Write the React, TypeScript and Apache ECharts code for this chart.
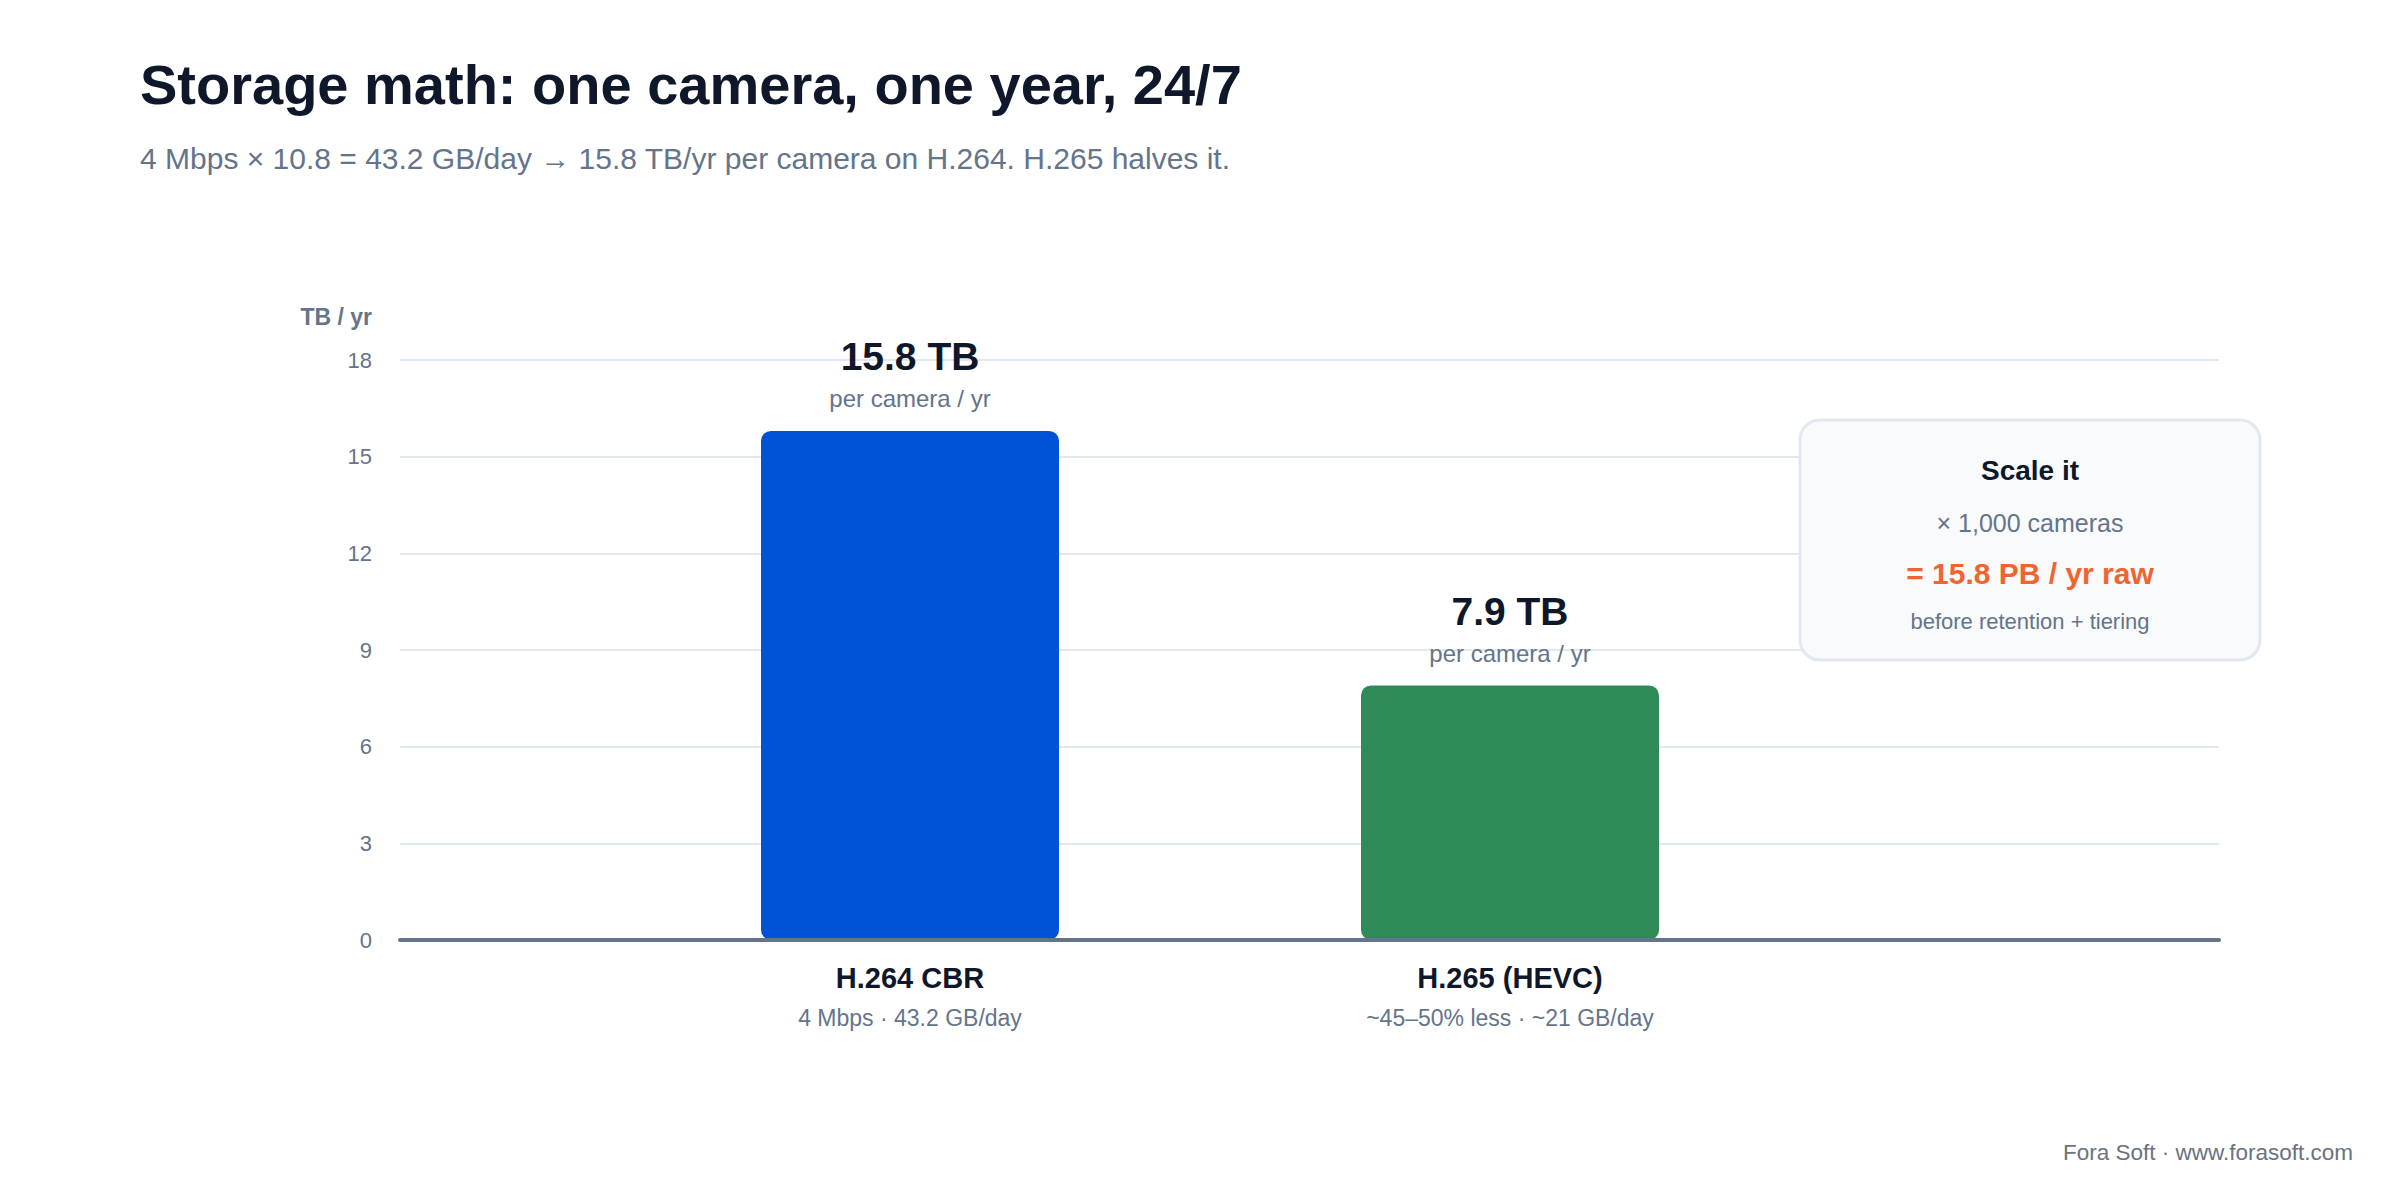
import React, { useEffect, useRef } from "react";
import * as echarts from "echarts";

const categories = ["H.264 CBR", "H.265 (HEVC)"];
const categoryNotes = ["4 Mbps · 43.2 GB/day", "~45–50% less · ~21 GB/day"];
const storageTB = [15.8, 7.9];
const barColors = ["#0052d6", "#2e8b57"];
const valueLabels = ["15.8 TB", "7.9 TB"];
const yTicks = { min: 0, max: 18, interval: 3 };

const FONT = "'Liberation Sans', Arial, Helvetica, sans-serif";
const DARK = "#0f172a";
const SLATE = "#64748b";

export default function App() {
  const ref = useRef<HTMLDivElement>(null);

  useEffect(() => {
    if (!ref.current) return;
    const chart = echarts.init(ref.current, undefined, { renderer: "svg" });

    const option: any = {
      animation: false,
      backgroundColor: "#ffffff",
      textStyle: { fontFamily: FONT },
      grid: [
        { left: 400, right: 181, top: 360, bottom: 260 },
        { left: 610, width: 1200, top: 360, bottom: 260 },
      ],
      xAxis: [
        {
          gridIndex: 0,
          type: "value",
          min: 0,
          max: 1,
          z: 5,
          axisLine: { show: true, lineStyle: { color: SLATE, width: 4, cap: "round" } },
          axisTick: { show: false },
          axisLabel: { show: false },
          splitLine: { show: false },
        },
        {
          gridIndex: 1,
          type: "category",
          data: categories,
          axisLine: { show: false },
          axisTick: { show: false },
          axisLabel: {
            margin: 18,
            formatter: (v: string, i: number) => `{a|${v}}\n{b|${categoryNotes[i]}}`,
            rich: {
              a: { fontFamily: FONT, fontSize: 29, fontWeight: "bold", color: DARK, lineHeight: 40 },
              b: { fontFamily: FONT, fontSize: 23, color: SLATE, lineHeight: 40 },
            },
          },
        },
      ],
      yAxis: [
        {
          gridIndex: 0,
          type: "value",
          min: yTicks.min,
          max: yTicks.max,
          interval: yTicks.interval,
          name: "TB / yr",
          nameLocation: "end",
          nameGap: 43,
          nameTextStyle: {
            fontFamily: FONT,
            fontSize: 23,
            fontWeight: "bold",
            color: SLATE,
            align: "right",
            verticalAlign: "middle",
            padding: [0, 28, 0, 0],
          },
          axisLine: { show: false },
          axisTick: { show: false },
          axisLabel: { fontFamily: FONT, fontSize: 22, color: SLATE, margin: 28 },
          splitLine: { show: true, lineStyle: { color: "#e2e8f0", width: 2 } },
        },
        {
          gridIndex: 1,
          type: "value",
          min: yTicks.min,
          max: yTicks.max,
          show: false,
          splitLine: { show: false },
        },
      ],
      series: [
        {
          type: "bar",
          xAxisIndex: 1,
          yAxisIndex: 1,
          barWidth: 298,
          data: storageTB.map((v, i) => ({
            value: v,
            itemStyle: { color: barColors[i], borderRadius: 10 },
          })),
          label: {
            show: true,
            position: "top",
            distance: 11,
            formatter: (p: any) => `{a|${valueLabels[p.dataIndex]}}\n{b|per camera / yr}`,
            rich: {
              a: { fontFamily: FONT, fontSize: 39, fontWeight: "bold", color: DARK, lineHeight: 42, align: "center" },
              b: { fontFamily: FONT, fontSize: 24, color: SLATE, lineHeight: 42, align: "center" },
            },
          },
        },
      ],
      graphic: [
        {
          type: "text",
          x: 140,
          y: 84,
          style: {
            text: "Storage math: one camera, one year, 24/7",
            fontFamily: FONT,
            fontSize: 56,
            fontWeight: "bold",
            fill: DARK,
            verticalAlign: "middle",
          },
        },
        {
          type: "text",
          x: 140,
          y: 158,
          style: {
            text: "4 Mbps × 10.8 = 43.2 GB/day → 15.8 TB/yr per camera on H.264. H.265 halves it.",
            fontFamily: FONT,
            fontSize: 30,
            fill: SLATE,
            verticalAlign: "middle",
          },
        },
        {
          type: "group",
          z: 100,
          children: [
            {
              type: "rect",
              x: 1800,
              y: 420,
              z: 100,
              shape: { x: 0, y: 0, width: 460, height: 240, r: 20 },
              style: { fill: "#f8fafc", stroke: "#e2e8f0", lineWidth: 3 },
            },
            {
              type: "text",
              x: 2030,
              y: 470,
              z: 101,
              style: { text: "Scale it", fontFamily: FONT, fontSize: 28, fontWeight: "bold", fill: DARK, align: "center", verticalAlign: "middle" },
            },
            {
              type: "text",
              x: 2030,
              y: 523,
              z: 101,
              style: { text: "× 1,000 cameras", fontFamily: FONT, fontSize: 25, fill: SLATE, align: "center", verticalAlign: "middle" },
            },
            {
              type: "text",
              x: 2030,
              y: 573,
              z: 101,
              style: { text: "= 15.8 PB / yr raw", fontFamily: FONT, fontSize: 30, fontWeight: "bold", fill: "#f2642f", align: "center", verticalAlign: "middle" },
            },
            {
              type: "text",
              x: 2030,
              y: 621,
              z: 101,
              style: { text: "before retention + tiering", fontFamily: FONT, fontSize: 22, fill: SLATE, align: "center", verticalAlign: "middle" },
            },
          ],
        },
        {
          type: "text",
          x: 2353,
          y: 1152,
          style: { text: "Fora Soft · www.forasoft.com", fontFamily: FONT, fontSize: 22.5, fill: "#6b7280", align: "right", verticalAlign: "middle" },
        },
      ],
    };

    chart.setOption(option);
    return () => chart.dispose();
  }, []);

  return (
    <div
      ref={ref}
      style={{ position: "fixed", left: 0, top: 0, width: 2400, height: 1200, background: "#fff" }}
    />
  );
}
